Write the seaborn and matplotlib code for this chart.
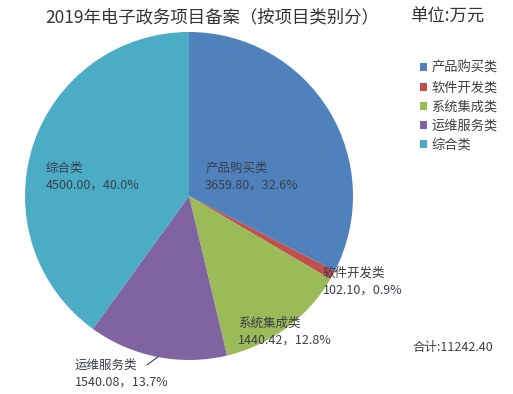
import matplotlib
matplotlib.use("Agg")
import matplotlib.pyplot as plt
import seaborn as sns
from matplotlib.patches import Patch

sns.set_theme(style="white")
plt.rcParams['font.family'] = ['Noto Sans CJK SC', 'DejaVu Sans']

# 数据
cats = ['产品购买类', '软件开发类', '系统集成类', '运维服务类', '综合类']
vals = [3659.80, 102.10, 1440.42, 1540.08, 4500.00]
pcts = ['32.6%', '0.9%', '12.8%', '13.7%', '40.0%']
colors = ['#4f81bd', '#c0504d', '#9bbb59', '#8064a2', '#4bacc6']
total_txt = '合计:11242.40'

W, H = 513, 394
fig = plt.figure(figsize=(W / 100, H / 100), dpi=100)
fig.patch.set_facecolor('white')

# 饼图区域 (中心约 189,196 半径约164)
ax = fig.add_axes([25 / W, (H - 196 - 164) / H, 328 / W, 328 / H])
ax.pie(vals, colors=colors, startangle=90, counterclock=False,
       wedgeprops=dict(linewidth=0))
ax.set_xlim(-1, 1)
ax.set_ylim(-1, 1)
ax.set_aspect('equal')
ax.axis('off')

# 标签位置
pos = [(0.098, 0.207), (0.817, -0.433), (0.299, -0.738), (-0.695, -0.994), (-0.872, 0.207)]
tc = '#3a3f4a'
for (x, y), c, v, p in zip(pos, cats, vals, pcts):
    ax.text(x, y, f'{c}\n{v:.2f}，{p}', ha='left', va='top', fontsize=9,
            color=tc, linespacing=1.35, clip_on=False)
# 引导线
ax.plot([-0.256, -0.189], [-1.03, -0.98], color='#404040', lw=0.8, clip_on=False)

# 标题
fig.text(45 / W, 1 - 17 / H, '2019年电子政务项目备案（按项目类别分）', ha='left',
         va='center', fontsize=12.5, color='#333333')
fig.text(410 / W, 1 - 17 / H, '单位:万元', ha='left', va='center',
         fontsize=12.5, color='#333333')

# 图例
handles = [Patch(facecolor=c, edgecolor='none') for c in colors]
fig.legend(handles, cats, loc='upper left', bbox_to_anchor=(420 / W, 1 - 62 / H),
           frameon=False, fontsize=9.5, handlelength=0.55, handleheight=0.55,
           handletextpad=0.3, labelspacing=0.47, borderpad=0, borderaxespad=0,
           labelcolor='#404040')

fig.text(413 / W, 1 - 347 / H, total_txt, ha='left', va='center', fontsize=9,
         color='#404040')

fig.savefig('out.png', dpi=100, facecolor='white')
